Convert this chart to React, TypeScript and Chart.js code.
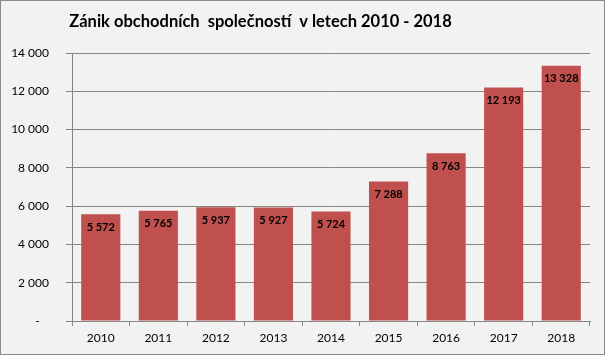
import React, { useEffect, useRef } from "react";
import { Chart, registerables } from "chart.js";

Chart.register(...registerables);

const TITLE = "Zánik obchodních  společností  v letech 2010 - 2018";
const YEARS = ["2010", "2011", "2012", "2013", "2014", "2015", "2016", "2017", "2018"];
const VALUES = [5572, 5765, 5937, 5927, 5724, 7288, 8763, 12193, 13328];
const Y_MAX = 14000;
const Y_STEP = 2000;

const FONT = "Lato, 'Liberation Sans', sans-serif";

function fmt(v: number): string {
  if (v === 0) return "-   ";
  return String(v).replace(/\B(?=(\d{3})+(?!\d))/g, " ");
}

const titlePlugin = {
  id: "customTitle",
  afterDraw(chart: any) {
    const ctx = chart.ctx;
    ctx.save();
    ctx.font = `bold 16.5px ${FONT}`;
    ctx.fillStyle = "#000";
    ctx.textAlign = "center";
    ctx.textBaseline = "middle";
    ctx.fillText(TITLE, 259.5, 21);
    ctx.restore();
  },
};

const labelPlugin = {
  id: "barLabels",
  afterDatasetsDraw(chart: any) {
    const ctx = chart.ctx;
    const meta = chart.getDatasetMeta(0);
    ctx.save();
    ctx.font = `bold 11px ${FONT}`;
    ctx.fillStyle = "#000";
    ctx.textAlign = "center";
    ctx.textBaseline = "middle";
    meta.data.forEach((bar: any, i: number) => {
      ctx.fillText(fmt(VALUES[i]), bar.x, bar.y + 13);
    });
    ctx.restore();
  },
};

export default function App() {
  const ref = useRef<HTMLCanvasElement>(null);
  useEffect(() => {
    document.body.style.margin = "0";
    const chart = new Chart(ref.current!, {
      type: "bar",
      data: {
        labels: YEARS,
        datasets: [
          {
            data: VALUES,
            backgroundColor: "#C0504D",
            borderWidth: 0,
            categoryPercentage: 1,
            barPercentage: 0.68,
          },
        ],
      },
      options: {
        responsive: false,
        animation: false,
        layout: { padding: { top: 52, left: 0, right: 14, bottom: 0 } },
        plugins: {
          legend: { display: false },
          title: { display: false },
          tooltip: { enabled: false },
        },
        scales: {
          x: {
            grid: {
              offset: true,
              drawOnChartArea: false,
              drawTicks: true,
              tickLength: 5,
              color: "#868686",
            },
            border: { display: true, color: "#868686" },
            ticks: {
              color: "#000",
              font: { family: FONT, size: 12 },
              padding: 5,
              maxRotation: 0,
            },
            afterFit: (s: any) => {
              s.height = 33;
            },
          },
          y: {
            min: 0,
            max: Y_MAX,
            grid: { color: "#868686", tickLength: 6, drawTicks: true },
            border: { display: true, color: "#868686" },
            ticks: {
              stepSize: Y_STEP,
              color: "#000",
              font: { family: FONT, size: 12 },
              padding: 17,
              callback: (v: any) => fmt(Number(v)),
            },
            afterFit: (s: any) => {
              s.width = 71;
            },
          },
        },
      },
      plugins: [titlePlugin, labelPlugin],
    });
    return () => chart.destroy();
  }, []);
  return (
    <div
      style={{
        position: "absolute",
        left: 0,
        top: 0,
        width: 605,
        height: 355,
        boxSizing: "border-box",
        border: "1px solid #8a8a8a",
        background: "#F2F2F2",
      }}
    >
      <canvas ref={ref} width={603} height={353} style={{ display: "block" }} />
    </div>
  );
}
